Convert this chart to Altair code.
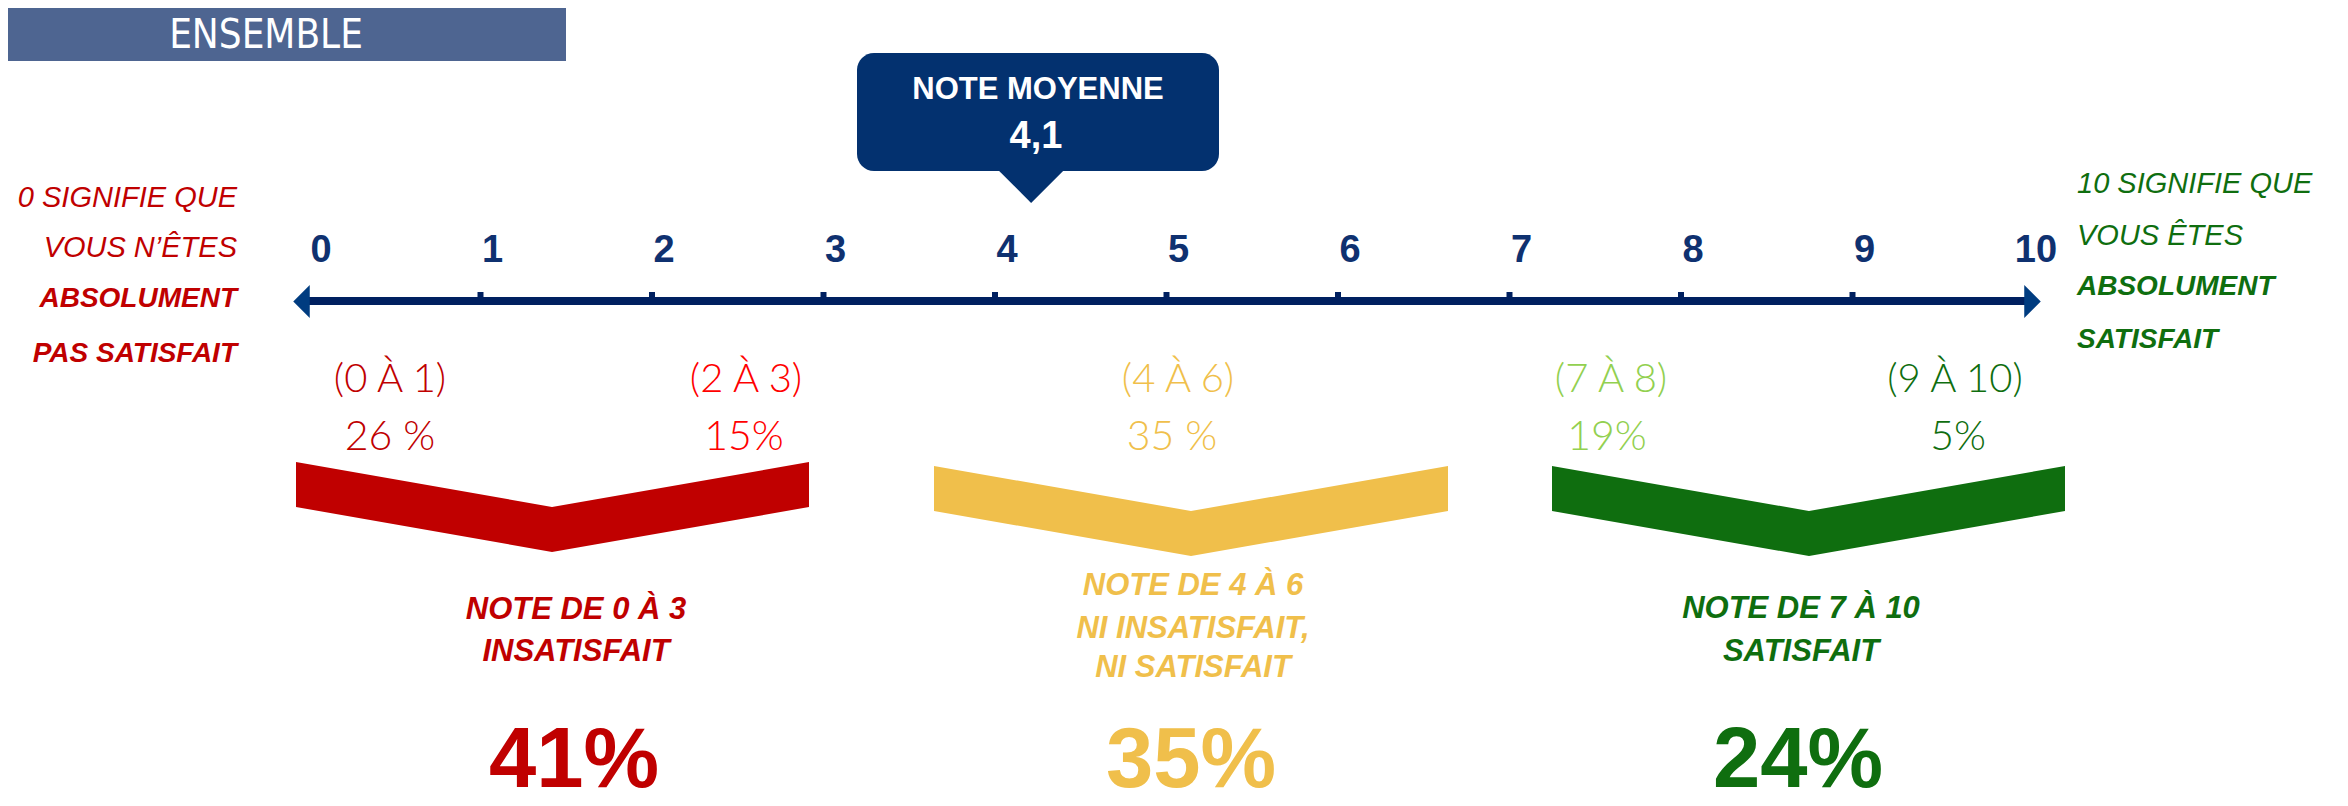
import altair as alt
import pandas as pd

# ---------------- data ----------------
SCORES = list(range(11))
MEAN_SCORE = 4.1
MEAN_TITLE = "NOTE MOYENNE"
MEAN_TEXT = "4,1"
BANNER_TEXT = "ENSEMBLE"

LEFT_LINES = ["0 SIGNIFIE QUE", "VOUS N’ÊTES", "ABSOLUMENT", "PAS SATISFAIT"]
RIGHT_LINES = ["10 SIGNIFIE QUE", "VOUS ÊTES", "ABSOLUMENT", "SATISFAIT"]

RANGE_LABELS = ["(0 À 1)", "(2 À 3)", "(4 À 6)", "(7 À 8)", "(9 À 10)"]
RANGE_PCT_LABELS = ["26 %", "15%", "35 %", "19%", "5%"]

GROUPS = ["Insatisfait", "Neutre", "Satisfait"]
GROUP_TITLES = [["NOTE DE 0 À 3", "INSATISFAIT"],
                ["NOTE DE 4 À 6", "NI INSATISFAIT,", "NI SATISFAIT"],
                ["NOTE DE 7 À 10", "SATISFAIT"]]
GROUP_PCT_LABELS = ["41%", "35%", "24%"]

# ---------------- style / layout ----------------
RED_DARK, RED, GOLD, LGREEN, DGREEN = "#C00000", "#FF0000", "#F0BF4B", "#92D050", "#0F6E0F"
RANGE_COLORS = [RED_DARK, RED, GOLD, LGREEN, DGREEN]
GROUP_COLORS = [RED_DARK, GOLD, DGREEN]
NAVY_LINE, NAVY_BOX, NAVY_TEXT, BANNER = "#002060", "#03316F", "#0F3170", "#4E6591"

ARIAL = "Liberation Sans, Arial, sans-serif"
NARROW = "Liberation Sans Narrow, Arial Narrow, DejaVu Sans Condensed, sans-serif"
LIGHT = "Lato, Liberation Sans, sans-serif"

W, H = 2332, 798
X0, STEP = 321.0, 171.5          # score-axis placement


def sx(px):
    return (px - X0) / STEP


XS = alt.Scale(domain=[sx(8), sx(8 + W)], range=[0, W], nice=False, zero=False)
YS = alt.Scale(domain=[8, 8 + H], range=[0, H], nice=False, zero=False)


def X(f="x"):
    return alt.X(f"{f}:Q", scale=XS, axis=None)


def Y(f="y"):
    return alt.Y(f"{f}:Q", scale=YS, axis=None)


def text_layer(df, size, font=ARIAL, weight="normal", style="normal", align="center",
               baseline="alphabetic"):
    return alt.Chart(df).mark_text(
        fontSize=size, font=font, fontWeight=weight, fontStyle=style,
        align=align, baseline=baseline
    ).encode(x=X(), y=Y(), text="t:N", color=alt.Color("c:N", scale=None))


layers = []

# banner
banner = pd.DataFrame({"x": [sx(0)], "x2": [sx(566)], "y": [6], "y2": [61]})
layers.append(alt.Chart(banner).mark_rect(color=BANNER).encode(
    x=X(), x2="x2:Q", y=Y(), y2="y2:Q"))
layers.append(text_layer(pd.DataFrame({"x": [sx(266)], "y": [48], "t": [BANNER_TEXT], "c": ["white"]}),
                         40, font=NARROW))

# axis line
axis_df = pd.DataFrame({"x": [sx(306)], "x2": [sx(2028)], "y": [301]})
layers.append(alt.Chart(axis_df).mark_rule(color=NAVY_LINE, strokeWidth=8).encode(
    x=X(), x2="x2:Q", y=Y()))
# arrow heads
left_head = pd.DataFrame({"x": [sx(301.5)], "y": [301.5]})
right_head = pd.DataFrame({"x": [sx(2032.5)], "y": [301.5]})
layers.append(alt.Chart(left_head).mark_point(
    shape="M 0.5 -1 L -0.5 0 L 0.5 1 Z", filled=True, size=1089, opacity=1,
    color="#003C80", strokeWidth=0).encode(x=X(), y=Y()))
layers.append(alt.Chart(right_head).mark_point(
    shape="M -0.5 -1 L 0.5 0 L -0.5 1 Z", filled=True, size=1089, opacity=1,
    color="#003C80", strokeWidth=0).encode(x=X(), y=Y()))

# ticks
ticks = pd.DataFrame({"x": SCORES[1:-1], "y": [292] * 9, "y2": [298] * 9})
layers.append(alt.Chart(ticks).mark_rule(color=NAVY_LINE, strokeWidth=6, xOffset=-12).encode(
    x=X(), y=Y(), y2="y2:Q"))
# tick labels
tl = pd.DataFrame({"x": SCORES, "y": [262] * 11, "t": [str(s) for s in SCORES], "c": [NAVY_TEXT] * 11})
layers.append(text_layer(tl, 38, weight="bold"))

# mean callout
box = pd.DataFrame({"x": [sx(857)], "x2": [sx(1219)], "y": [53], "y2": [171]})
layers.append(alt.Chart(box).mark_rect(color=NAVY_BOX, cornerRadius=17).encode(
    x=X(), x2="x2:Q", y=Y(), y2="y2:Q"))
pointer = pd.DataFrame({"x": [MEAN_SCORE], "y": [203]})
layers.append(alt.Chart(pointer).mark_point(
    shape="M -1 -1 L 1 -1 L 0 0 Z", filled=True, size=4096, opacity=1,
    color=NAVY_BOX, strokeWidth=0, xOffset=7).encode(x=X(), y=Y()))
layers.append(text_layer(pd.DataFrame({"x": [sx(1038)], "y": [99], "t": [MEAN_TITLE], "c": ["white"]}),
                         31, weight="bold"))
layers.append(text_layer(pd.DataFrame({"x": [sx(1036)], "y": [148], "t": [MEAN_TEXT], "c": ["white"]}),
                         38, weight="bold"))

# side texts
lx, ly = sx(237), [207, 257, 307, 362]
rx, ry = sx(2077), [193, 245, 295, 348]
left_df = pd.DataFrame({"x": [lx] * 4, "y": ly, "t": LEFT_LINES, "c": [RED_DARK] * 4})
right_df = pd.DataFrame({"x": [rx] * 4, "y": ry, "t": RIGHT_LINES, "c": [DGREEN] * 4})
layers.append(text_layer(left_df.iloc[:2], 29, style="italic", align="right"))
layers.append(text_layer(left_df.iloc[2:], 28, style="italic", weight="bold", align="right"))
layers.append(text_layer(right_df.iloc[:2], 29, style="italic", align="left"))
layers.append(text_layer(right_df.iloc[2:], 28, style="italic", weight="bold", align="left"))

# range labels and their percentages
RANGE_X = [390, 746, 1178, 1611, 1955]
PCT_X = [390, 744, 1172, 1607, 1958]
rl = pd.DataFrame({"x": [sx(v) for v in RANGE_X], "y": [392] * 5, "t": RANGE_LABELS, "c": RANGE_COLORS})
rp = pd.DataFrame({"x": [sx(v) for v in PCT_X], "y": [450] * 5, "t": RANGE_PCT_LABELS, "c": RANGE_COLORS})
layers.append(text_layer(rl, 40, font=LIGHT, weight=300))
layers.append(text_layer(rp, 41, font=LIGHT, weight=300))

# chevrons
CHEV = {
    "Insatisfait": ([296, 552, 809], [462, 507, 462], 45),
    "Neutre": ([934, 1191, 1448], [466, 511, 466], 45),
    "Satisfait": ([1552, 1809, 2065], [466, 511, 466], 45),
}
rows = []
for g, col in zip(GROUPS, GROUP_COLORS):
    xs_, ys_, th = CHEV[g]
    for xp, yp in zip(xs_, ys_):
        rows.append({"g": g, "x": sx(xp), "y": yp, "y2": yp + th, "c": col})
chev = pd.DataFrame(rows)
layers.append(alt.Chart(chev).mark_area(interpolate="linear", opacity=1).encode(
    x=X(), y=Y(), y2="y2:Q", color=alt.Color("c:N", scale=None), detail="g:N"))

# group titles
TITLE_X = [576, 1193, 1801]
TITLE_Y = [[619, 661], [595, 638, 677], [618, 661]]
trows = []
for lines, cx, ys_, col in zip(GROUP_TITLES, TITLE_X, TITLE_Y, GROUP_COLORS):
    for line, yy in zip(lines, ys_):
        trows.append({"x": sx(cx), "y": yy, "t": line, "c": col})
layers.append(text_layer(pd.DataFrame(trows), 31, weight="bold", style="italic"))

# big group percentages (kept fully inside the picture)
BIG_X = [574, 1191, 1798]
big = pd.DataFrame({"x": [sx(v) for v in BIG_X], "y": [805] * 3, "t": GROUP_PCT_LABELS, "c": GROUP_COLORS})
layers.append(text_layer(big, 85, weight="bold", baseline="bottom"))

chart = alt.layer(*layers).properties(
    width=W, height=H, padding=0, autosize="none"
).configure_view(stroke=None)

chart.save("out.html", embed_options={"renderer": "svg", "actions": False})
